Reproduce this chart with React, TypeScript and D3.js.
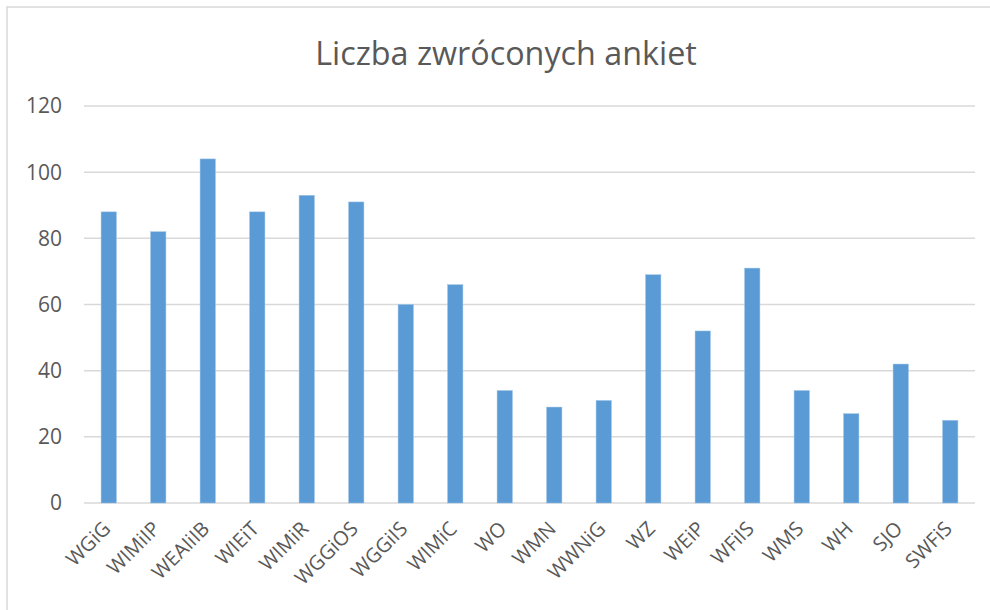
import React from "react";
import * as d3 from "d3";

const categories = ["WGiG", "WIMiIP", "WEAIiIB", "WIEiT", "WIMiR", "WGGiOS", "WGGiIS", "WIMiC", "WO", "WMN", "WWNiG", "WZ", "WEiP", "WFiIS", "WMS", "WH", "SJO", "SWFiS"];
const values = [88, 82, 104, 88, 93, 91, 60, 66, 34, 29, 31, 69, 52, 71, 34, 27, 42, 25];
const yTicks = [0, 20, 40, 60, 80, 100, 120];
const title = "Liczba zwróconych ankiet";

export default function App() {
  const W = 990, H = 610;
  const left = 84, right = 975, top = 106, bottom = 503;
  const x = d3.scaleBand<string>().domain(categories).range([left, right]).paddingInner(0.69).paddingOuter(0.345);
  const y = d3.scaleLinear().domain([0, 120]).range([bottom, top]);
  const font = "'Open Sans', sans-serif";
  const textColor = "#595959";
  return (
    <svg width={W} height={H} style={{ position: "absolute", left: 0, top: 0, display: "block" }}>
      <rect x={0} y={0} width={W} height={H} fill="#fff" />
      <rect x={7} y={7} width={W + 20} height={H + 20} fill="none" stroke="#D9D9D9" strokeWidth={1.5} />
      <text x={506} y={65} textAnchor="middle" fontFamily={font} fontSize={32.3} fill={textColor}>{title}</text>
      {yTicks.map((t) => (
        <g key={t}>
          <line x1={left} x2={right} y1={y(t)} y2={y(t)} stroke="#D9D9D9" strokeWidth={1.5} />
          <text x={62} y={y(t)} dy="0.35em" textAnchor="end" fontFamily={font} fontSize={21} fill={textColor}>{t}</text>
        </g>
      ))}
      {categories.map((c, i) => (
        <rect key={c} x={x(c)} y={y(values[i])} width={x.bandwidth()} height={bottom - y(values[i])} fill="#5B9BD5" stroke="#9DC3E6" strokeWidth={0.5} />
      ))}
      {categories.map((c) => {
        const cx = (x(c) as number) + x.bandwidth() / 2 + 3;
        const cy = 530;
        return (
          <text key={c} x={cx} y={cy} textAnchor="end" fontFamily={font} fontSize={20} fill={textColor} transform={`rotate(-45 ${cx} ${cy})`}>{c}</text>
        );
      })}
    </svg>
  );
}
